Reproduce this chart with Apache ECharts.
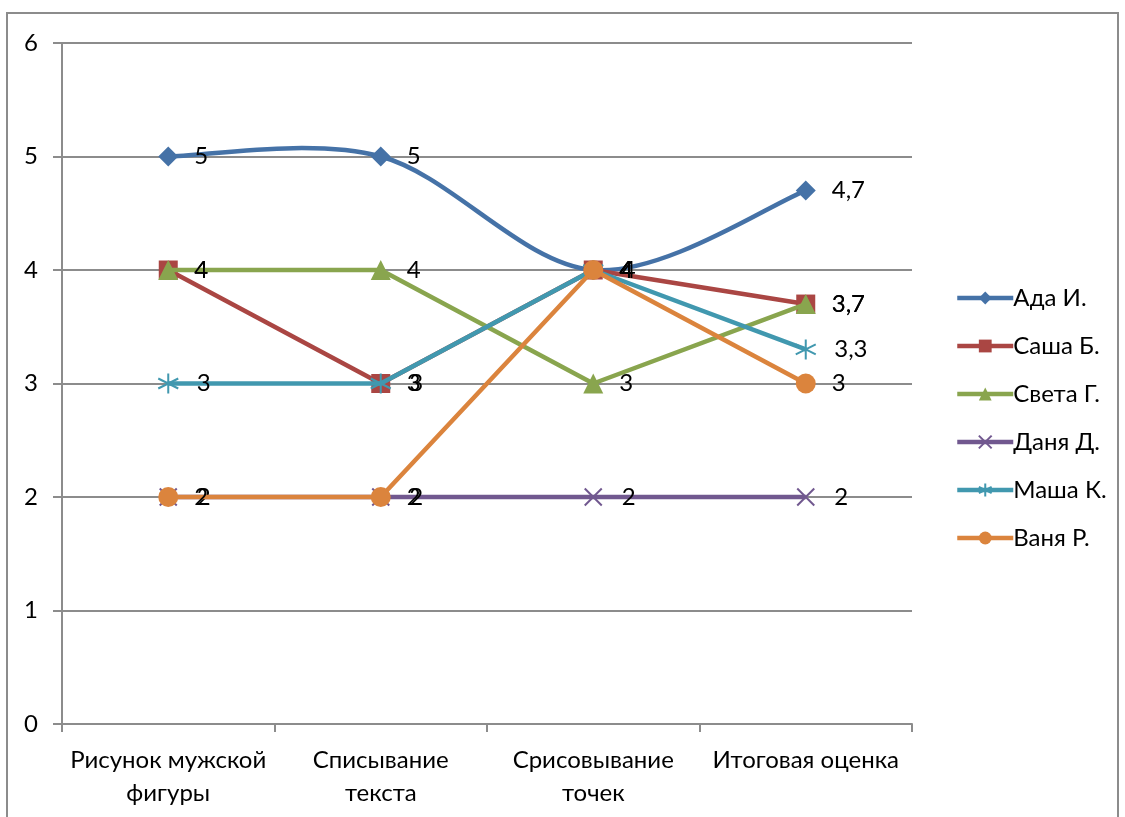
<!DOCTYPE html>
<html>
<head>
<meta charset="utf-8">
<script src="https://cdn.jsdelivr.net/npm/echarts@6/dist/echarts.min.js"></script>
<style>
  html, body { margin: 0; padding: 0; background: #fff; }
  #chart { width: 1125px; height: 817px; }
</style>
</head>
<body>
<div id="chart"></div>
<script>
// Test categories (two-line captions on the x axis)
const categories = [
  'Рисунок мужской\nфигуры',
  'Списывание\nтекста',
  'Срисовывание\nточек',
  'Итоговая оценка'
];

// Scores per pupil
const names = ['Ада И.', 'Саша Б.', 'Света Г.', 'Даня Д.', 'Маша К.', 'Ваня Р.'];
const ada   = [5, 5, 4, 4.7];
const sasha = [4, 3, 4, 3.7];
const sveta = [4, 4, 3, 3.7];
const danya = [2, 2, 2, 2];
const masha = [3, 3, 4, 3.3];
const vanya = [2, 2, 4, 3];

const yTicks = [0, 1, 2, 3, 4, 5, 6];

const FONT = 'Lato';
const FS = 24;
const colors = ['#4572A7', '#AA4643', '#89A54E', '#71588F', '#4198AF', '#DB843D'];
const crossPath = 'path://M0,0L10,10M10,0L0,10';
const starPath = 'path://M5,0L5,10M0.7,2.5L9.3,7.5M0.7,7.5L9.3,2.5';

const values = [ada, sasha, sveta, danya, masha, vanya];
const symbols = ['diamond', 'rect', 'triangle', crossPath, starPath, 'circle'];
const symbolSizes = [20, 19, 20, 17, 20, 20];
const LINE_W = 4.5;
// labels sit the same distance from the point centre whatever the marker size
const LABEL_GAP = 26;

const series = names.map((name, i) => {
  const open = i === 3 || i === 4;
  return {
    name: name,
    type: 'line',
    data: values[i],
    symbol: symbols[i],
    symbolSize: symbolSizes[i],
    showAllSymbol: true,
    // the first pupil's curve is drawn by the smoothed custom series below
    lineStyle: { color: colors[i], width: LINE_W, opacity: i === 0 ? 0 : 1 },
    itemStyle: open
      ? { color: 'none', borderColor: colors[i], borderWidth: 2 }
      : { color: colors[i], borderColor: colors[i], borderWidth: 0 },
    label: {
      show: true,
      position: 'right',
      distance: LABEL_GAP - symbolSizes[i] / 2,
      color: '#000',
      fontFamily: FONT,
      fontSize: FS,
      formatter: p => String(p.value).replace('.', ',')
    },
    emphasis: { disabled: true },
    z: 3 + i
  };
});

// Smoothed curve (cardinal Bezier, tension 1/6) through the data points
series.push({
  name: names[0],
  type: 'custom',
  data: ada.map((v, i) => [i, v]),
  z: 2,
  silent: true,
  renderItem: function (params, api) {
    if (params.dataIndex !== 0) return null;
    const pts = ada.map((v, i) => api.coord([i, v]));
    const n = pts.length;
    let d = 'M' + pts[0][0] + ',' + pts[0][1];
    for (let i = 0; i < n - 1; i++) {
      const p0 = pts[Math.max(i - 1, 0)];
      const p1 = pts[i];
      const p2 = pts[i + 1];
      const p3 = pts[Math.min(i + 2, n - 1)];
      const c1 = [p1[0] + (p2[0] - p0[0]) / 6, p1[1] + (p2[1] - p0[1]) / 6];
      const c2 = [p2[0] - (p3[0] - p1[0]) / 6, p2[1] - (p3[1] - p1[1]) / 6];
      d += 'C' + c1[0] + ',' + c1[1] + ',' + c2[0] + ',' + c2[1] + ',' + p2[0] + ',' + p2[1];
    }
    return {
      type: 'path',
      shape: { pathData: d },
      style: { fill: 'none', stroke: colors[0], lineWidth: LINE_W, lineJoin: 'round' }
    };
  }
});

const legendData = names.map((n, i) => ({
  name: n,
  lineStyle: { opacity: 1, color: colors[i], width: LINE_W }
}));

const chart = echarts.init(document.getElementById('chart'), null, { renderer: 'canvas' });
chart.setOption({
  animation: false,
  backgroundColor: '#fff',
  textStyle: { fontFamily: FONT },
  graphic: [{
    type: 'rect',
    shape: { x: 7, y: 13, width: 1111, height: 830 },
    style: { fill: 'none', stroke: '#8c8c8c', lineWidth: 2 },
    silent: true,
    z: -1
  }],
  grid: { left: 62, right: 213, top: 43, bottom: 93, containLabel: false },
  legend: {
    orient: 'vertical',
    left: 955,
    top: 286,
    padding: 0,
    itemWidth: 56,
    itemHeight: 16,
    itemGap: 24,
    textStyle: { fontFamily: FONT, fontSize: FS, lineHeight: 24, color: '#000', padding: [0, 0, 0, -5] },
    data: legendData
  },
  xAxis: {
    type: 'category',
    data: categories,
    boundaryGap: true,
    axisLine: { lineStyle: { color: '#8c8c8c', width: 2 } },
    axisTick: { show: true, length: 8, lineStyle: { color: '#8c8c8c', width: 2 } },
    axisLabel: {
      color: '#000', fontFamily: FONT, fontSize: FS, margin: 20,
      lineHeight: 33, interval: 0
    },
    splitLine: { show: false }
  },
  yAxis: {
    type: 'value',
    min: yTicks[0],
    max: yTicks[yTicks.length - 1],
    interval: 1,
    axisLine: { show: true, lineStyle: { color: '#8c8c8c', width: 2 } },
    axisTick: { show: true, length: 9, lineStyle: { color: '#8c8c8c', width: 2 } },
    axisLabel: { color: '#000', fontFamily: FONT, fontSize: FS, margin: 24 },
    splitLine: { show: true, lineStyle: { color: '#8c8c8c', width: 2 } }
  },
  series: series
});
</script>
</body>
</html>
